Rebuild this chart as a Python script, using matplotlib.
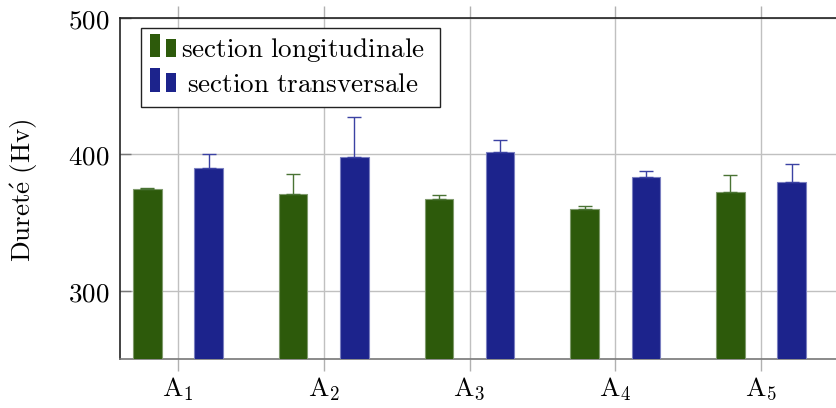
import matplotlib.pyplot as plt
from matplotlib.patches import Rectangle
import numpy as np

plt.rcParams["mathtext.fontset"] = "cm"
plt.rcParams["font.family"] = ["DejaVu Serif"]

categories = [r"$\mathrm{A}_1$", r"$\mathrm{A}_2$", r"$\mathrm{A}_3$", r"$\mathrm{A}_4$", r"$\mathrm{A}_5$"]
longi = [374.5, 371.3, 367.2, 360.1, 372.3]
longi_err = [1.2, 14.6, 3.0, 2.4, 12.5]
trans = [390.1, 398.2, 402.1, 383.3, 379.4]
trans_err = [10.5, 29.3, 8.5, 4.3, 13.9]
yticks = [300, 400, 500]
labels = [r"$\mathrm{section\ longitudinale}$", r"$\mathrm{section\ transversale}$"]

GREEN = "#2d5a0b"
BLUE = "#1c238c"
FS = 19.5

W, H = 837, 408
fig = plt.figure(figsize=(W / 100, H / 100), dpi=100)
AX_L, AX_B, AX_W, AX_H = 120, 49, 717, 341
ax = fig.add_axes([AX_L / W, AX_B / H, AX_W / W, AX_H / H])

x = np.arange(1, 6)
off = 0.21
w = 0.195
ax.bar(x - off, longi, width=w, color=GREEN, edgecolor="#7f9a6c", linewidth=0.8, zorder=3)
ax.bar(x + off, trans, width=w, color=BLUE, edgecolor="#7a7fc0", linewidth=0.8, zorder=3)
ax.errorbar(x - off, longi, yerr=[np.zeros(5), longi_err], fmt="none", ecolor="#4a7334",
            elinewidth=1.0, capsize=5, capthick=1.0, zorder=4)
ax.errorbar(x + off, trans, yerr=[np.zeros(5), trans_err], fmt="none", ecolor="#3b42a3",
            elinewidth=1.0, capsize=5, capthick=1.0, zorder=4)

ax.set_xlim(0.602, 5.521)
ax.set_ylim(250, 500)
ax.set_xticks(x)
ax.set_xticklabels(categories, fontsize=FS)
ax.set_yticks(yticks)
ax.set_yticklabels([rf"${v}$" for v in yticks], fontsize=FS)
ax.grid(True, color="#c0c0c0", linewidth=1.0, zorder=0)
ax.set_axisbelow(True)

ax.tick_params(axis="x", which="both", direction="out", length=8.5, width=1.0,
               color="#b0b0b0", top=True, bottom=True, pad=3)
ax.tick_params(axis="y", direction="in", length=8, width=1.0, color="#777777",
               left=True, right=False, pad=7.5)

ax.spines["right"].set_visible(False)
ax.spines["left"].set_color("#222222")
ax.spines["top"].set_color("#222222")
ax.spines["bottom"].set_color("#777777")
for s in ["left", "top", "bottom"]:
    ax.spines[s].set_linewidth(1.2)

ax.set_ylabel(r"$\mathrm{Duret\acute{e}\ (Hv)}$", fontsize=FS)
ax.yaxis.label.set_va("center")
ax.yaxis.set_label_coords((24 - AX_L) / AX_W, 0.495)


# legend drawn by hand, pgfplots style (two small bars per entry, centred text)
def fx(px):
    return (px - AX_L) / AX_W


def fy(py):
    # pixel row measured from the top of the image -> axes fraction
    return ((H - py) - AX_B) / AX_H


frame = Rectangle((fx(141), fy(107)), fx(440) - fx(141), fy(28) - fy(107),
                  transform=ax.transAxes, facecolor="white", edgecolor="#222222",
                  linewidth=1.0, zorder=6)
ax.add_patch(frame)
for row, (col, lab) in enumerate(zip([GREEN, BLUE], labels)):
    base = 57.3 + row * 34.4
    for bx, top in [(150.3, base - 23.3), (166.3, base - 18.3)]:
        ax.add_patch(Rectangle((fx(bx), fy(base)), fx(bx + 9.4) - fx(bx), fy(top) - fy(base),
                               transform=ax.transAxes, facecolor=col, edgecolor="none", zorder=7))
    ax.text(fx(303), fy(base), lab, transform=ax.transAxes, ha="center", va="baseline",
            fontsize=FS, zorder=7)

fig.savefig("out.png", dpi=100)
